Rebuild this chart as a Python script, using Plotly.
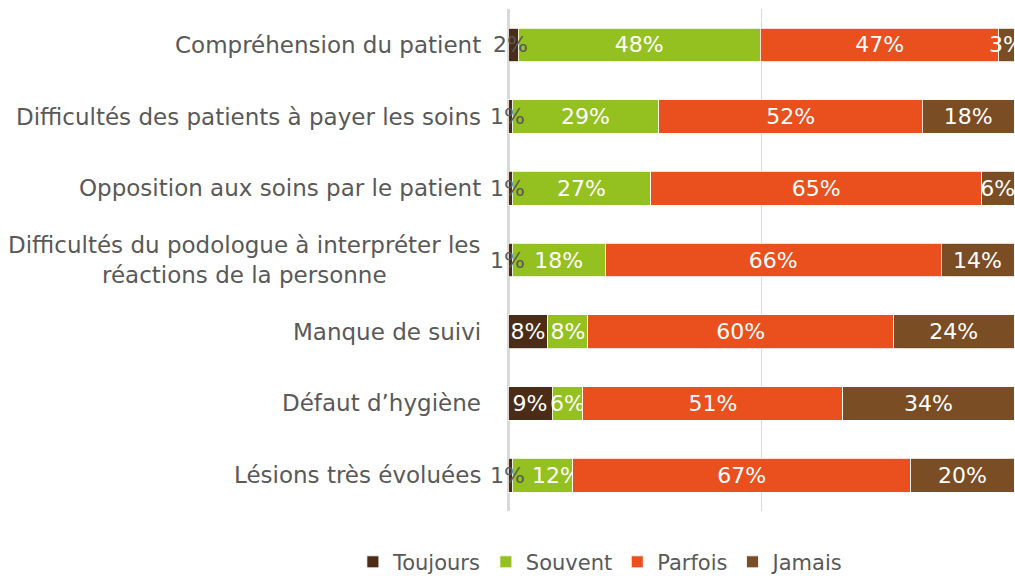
import plotly.graph_objects as go

categories = [
    "Compréhension du patient",
    "Difficultés des patients à payer les soins",
    "Opposition aux soins par le patient",
    "Difficultés du podologue à interpréter les<br>réactions de la personne",
    "Manque de suivi",
    "Défaut d’hygiène",
    "Lésions très évoluées",
]
series_names = ["Toujours", "Souvent", "Parfois", "Jamais"]
toujours = [2.0, 0.8, 0.8, 0.8, 7.9, 8.7, 0.8]
souvent = [47.9, 29.0, 27.4, 18.4, 7.9, 6.1, 12.0]
parfois = [47.1, 52.1, 65.4, 66.4, 60.4, 51.4, 66.8]
jamais = [3.0, 18.1, 6.4, 14.4, 23.8, 33.8, 20.4]
colors = ["#4a2c17", "#94c11f", "#e9501d", "#7b4d24"]

FONT = "DejaVu Sans"
GREY = "#595959"
SIZE = 22
NB = "\u00a0"

fig = go.Figure()
base = [0.0] * len(categories)
prev = [10.0] * len(categories)
for name, vals, col in zip(series_names, [toujours, souvent, parfois, jamais], colors):
    txt = []
    for v, p in zip(vals, prev):
        if v < 3:
            txt.append("")
        elif p < 3 and v < 15:
            # push the label right so it clears the overflowing label before it
            txt.append(NB * 4 + f"{v:.0f}%")
        else:
            txt.append(f"{v:.0f}%")
    fig.add_trace(go.Bar(
        name=name, y=categories, x=vals, orientation="h",
        marker=dict(color=col, line=dict(color="rgba(255,255,255,0.8)", width=1)),
        text=txt, texttemplate="%{text}", textposition="inside",
        insidetextanchor="middle", textangle=0, constraintext="none",
        textfont=dict(family=FONT, size=SIZE, color="white"),
        hoverinfo="skip",
    ))
    # small segments: label overflows, drawn in grey
    for i, (c, v) in enumerate(zip(categories, vals)):
        if v < 3:
            fig.add_annotation(x=base[i] + v / 2, y=c, xref="x", yref="y",
                               text=f"{v:.0f}%", showarrow=False, xshift=-3,
                               font=dict(family=FONT, size=SIZE, color=GREY))
        base[i] += v
    prev = list(vals)

for c in categories:
    fig.add_annotation(
        x=0, xref="paper", y=c, yref="y", xanchor="right", xshift=-25,
        text=c, showarrow=False, align="center",
        font=dict(family=FONT, size=23, color=GREY),
    )

fig.update_layout(
    barmode="stack", bargap=0.53,
    width=1015, height=576,
    margin=dict(l=508, r=1, t=9, b=65, autoexpand=False),
    paper_bgcolor="white", plot_bgcolor="white",
    uniformtext=dict(minsize=SIZE, mode="show"),
    showlegend=True,
    legend=dict(orientation="h", x=0.592, xref="container", xanchor="center",
                y=0.024, yref="container", yanchor="middle",
                font=dict(family=FONT, size=21, color=GREY),
                traceorder="normal", itemwidth=30),
    xaxis=dict(range=[0, 100], showticklabels=False, showgrid=True,
               gridcolor="#d9d9d9", gridwidth=1, dtick=50,
               zeroline=True, zerolinecolor="#d9d9d9", zerolinewidth=3,
               fixedrange=True),
    yaxis=dict(autorange="reversed", showticklabels=False, showgrid=False,
               zeroline=False, fixedrange=True),
)

fig.write_html("out.html", config={"displayModeBar": False},
               post_script="document.body.style.margin='0px';")
